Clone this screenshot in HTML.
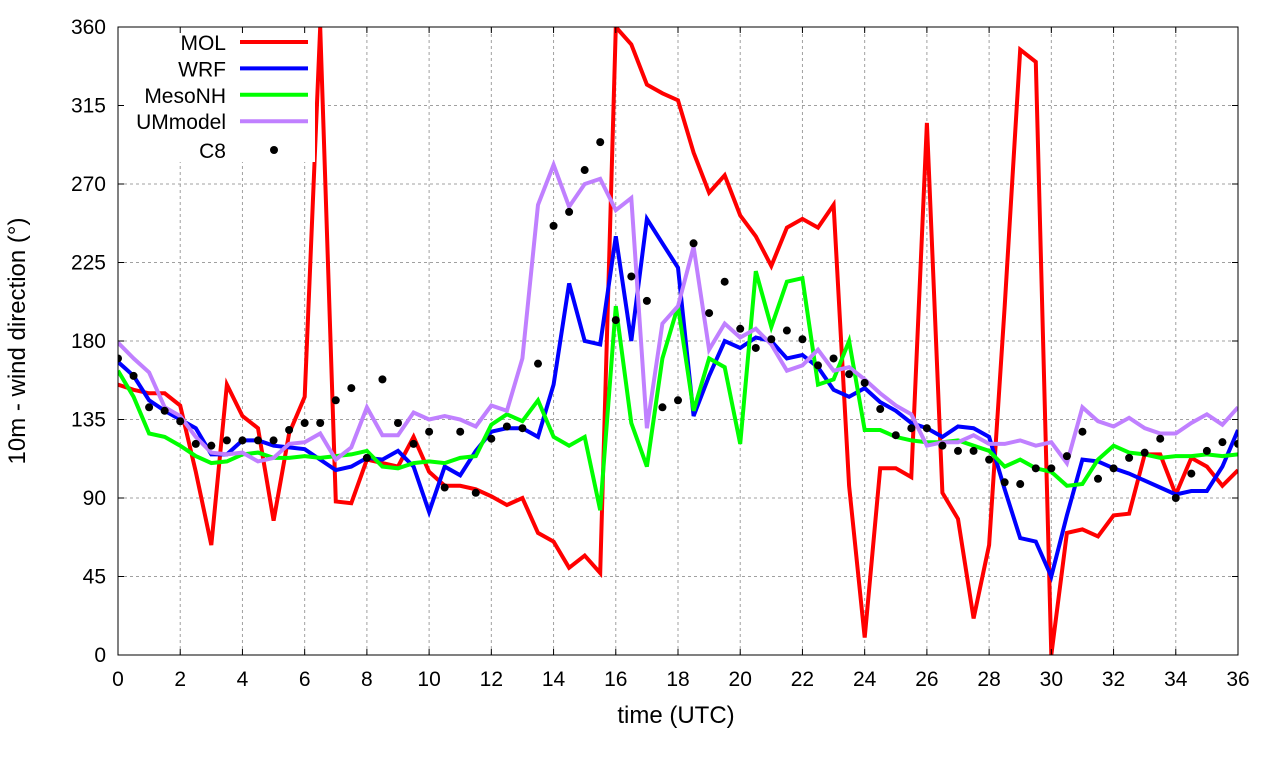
<!DOCTYPE html>
<html><head><meta charset="utf-8"><style>
html,body{margin:0;padding:0;background:#fff;}
svg{display:block;font-family:"Liberation Sans",sans-serif;}
</style></head><body>
<svg id="chart" width="1280" height="760" viewBox="0 0 1280 760" xmlns="http://www.w3.org/2000/svg">
<g id="grid"></g>
<g id="series"></g>
<rect x="119" y="28" width="196" height="134" fill="#fff"/>
<g id="axes"></g>
<g id="legend"></g>
<text x="676" y="723" font-size="24" text-anchor="middle">time (UTC)</text>
<text transform="translate(25,341) rotate(-90)" font-size="24" text-anchor="middle">10m - wind direction (°)</text>
</svg>
<script>
const xTicks=[0,2,4,6,8,10,12,14,16,18,20,22,24,26,28,30,32,34,36];
const yTicks=[0,45,90,135,180,225,270,315,360];
const mol=[155,152,150,150,143,105,63,155,137,130,77,127,148,360,88,87,112,110,108,125,105,97,97,95,91,86,90,70,65,50,57,47,360,350,327,322,318,288,265,275,252,240,223,245,250,245,258,97,10,107,107,102,305,93,78,21,63,200,347,340,0,70,72,68,80,81,115,115,92,113,108,97,106];
const wrf=[168,160,146,140,135,130,115,115,123,123,120,119,118,112,106,108,113,112,117,108,82,108,103,117,128,130,130,125,155,213,180,178,240,180,250,236,222,137,160,180,176,182,180,170,172,165,152,148,153,145,140,133,130,125,131,130,125,95,67,65,45,80,112,111,107,104,100,96,92,94,94,108,129];
const mesonh=[163,148,127,125,120,114,110,111,115,116,113,113,114,113,114,115,117,108,107,110,111,110,113,114,132,138,134,146,125,120,125,83,200,133,108,170,200,140,170,165,121,220,188,214,216,155,158,180,129,129,125,123,122,122,123,120,117,108,112,107,105,97,98,112,120,116,115,113,114,114,115,114,115];
const um=[179,170,162,142,137,125,116,115,116,111,113,121,122,127,112,119,142,126,126,139,135,137,135,131,143,140,170,258,281,257,270,273,255,262,130,190,200,234,175,190,182,187,178,163,166,175,163,165,158,150,143,138,120,122,122,126,121,121,123,120,122,110,142,134,131,136,130,127,127,133,138,132,142];
const c8=[170,160,142,140,134,121,120,123,123,123,123,129,133,133,146,153,113,158,133,121,128,96,128,93,124,131,130,167,246,254,278,294,192,217,203,142,146,236,196,214,187,176,181,186,181,166,170,161,156,141,126,130,130,120,117,117,112,99,98,107,107,114,128,101,107,113,116,124,90,104,117,122,121];
const X0=118,X1=1238,Y0=655,Y1=27;
function sx(t){return X0+(t/36)*(X1-X0);}
function sy(v){return Y0-(v/360)*(Y0-Y1);}
const NS="http://www.w3.org/2000/svg";
function mk(tag,attrs,parent){const e=document.createElementNS(NS,tag);for(const k in attrs)e.setAttribute(k,attrs[k]);parent.appendChild(e);return e;}
const grid=document.getElementById('grid'),axes=document.getElementById('axes'),series=document.getElementById('series'),legend=document.getElementById('legend');
xTicks.forEach(t=>{
 const g=mk('line',{x1:sx(t),x2:sx(t),y1:Y0,y2:Y1,stroke:'#a0a0a0','stroke-dasharray':'3,3','stroke-width':1},grid);
 
 
 const tk=mk('line',{x1:sx(t),x2:sx(t),y1:Y0,y2:Y0-6,stroke:'#000'},axes);
 
 
 const tk2=mk('line',{x1:sx(t),x2:sx(t),y1:Y1,y2:Y1+6,stroke:'#000'},axes);
 
 
 const l=mk('text',{x:sx(t),y:Y0+31,'font-size':21,'text-anchor':'middle'},axes);
 l.textContent=t;
 
 
});
yTicks.forEach(v=>{
 const g=mk('line',{x1:X0,x2:X1,y1:sy(v),y2:sy(v),stroke:'#a0a0a0','stroke-dasharray':'3,3','stroke-width':1},grid);
 
 
 const tk=mk('line',{x1:X0,x2:X0+6,y1:sy(v),y2:sy(v),stroke:'#000'},axes);
 
 
 const tk2=mk('line',{x1:X1,x2:X1-6,y1:sy(v),y2:sy(v),stroke:'#000'},axes);
 
 
 const l=mk('text',{x:X0-12,y:sy(v)+7,'font-size':21,'text-anchor':'end'},axes);
 l.textContent=v;
 
 
});
const frame=mk('rect',{x:X0,y:Y1,width:X1-X0,height:Y0-Y1,fill:'none',stroke:'#000','stroke-width':1},axes);


const defs=[['MOL',mol,'#ff0000'],['WRF',wrf,'#0000ff'],['MesoNH',mesonh,'#00ff00'],['UMmodel',um,'#c080ff']];
const clip=mk('clipPath',{id:'pc'},document.getElementById('chart'));
mk('rect',{x:X0,y:Y1,width:X1-X0,height:Y0-Y1},clip);
series.setAttribute('clip-path','url(#pc)');
defs.forEach((d,i)=>{
 const pts=d[1].map((v,j)=>sx(j*0.5).toFixed(1)+','+sy(v).toFixed(1)).join(' ');
 const p=mk('polyline',{points:pts,fill:'none',stroke:d[2],'stroke-width':4,'stroke-linejoin':'miter'},series);
 
 
 const ly=42+i*26.4;
 const t=mk('text',{x:226,y:ly+8,'font-size':21,'text-anchor':'end'},legend);
 t.textContent=d[0];
 
 
 const ln=mk('line',{x1:240,x2:308,y1:ly,y2:ly,stroke:d[2],'stroke-width':4},legend);
 
 
});
c8.forEach((v,j)=>{
 const c=mk('circle',{cx:sx(j*0.5),cy:sy(v),r:4,fill:'#000'},series);
 
 
});
const ct=mk('text',{x:226,y:158,'font-size':21,'text-anchor':'end'},legend);
ct.textContent='C8';


const cd=mk('circle',{cx:274,cy:150,r:4,fill:'#000'},legend);


</script>
</body></html>
